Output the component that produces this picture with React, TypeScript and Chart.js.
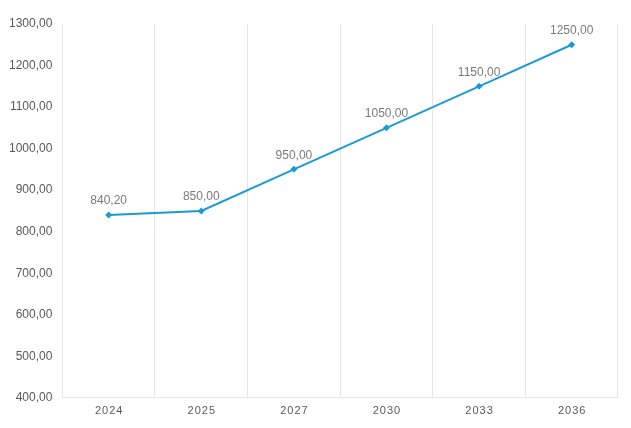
import React, { useEffect, useRef } from "react";
import { Chart, registerables } from "chart.js";

Chart.register(...registerables);

const categories: string[] = ["2024", "2025", "2027", "2030", "2033", "2036"];
const values: number[] = [840.2, 850, 950, 1050, 1150, 1250];
const yMin = 400;
const yMax = 1300;
const yStep = 100;

const LINE_COLOR = "#1a9bd7";
const FONT = "'Liberation Sans', Arial, sans-serif";

const fmt = (v: number) => v.toFixed(2).replace(".", ",");

const customLabels = {
  id: "customLabels",
  afterDatasetsDraw(chart: any) {
    const ctx = chart.ctx as CanvasRenderingContext2D;
    const meta = chart.getDatasetMeta(0);
    ctx.save();
    ctx.font = `12px ${FONT}`;
    ctx.fillStyle = "#7a7a7a";
    ctx.textAlign = "center";
    ctx.textBaseline = "middle";
    meta.data.forEach((pt: any, i: number) => {
      ctx.fillText(fmt(values[i]), pt.x, pt.y - 14);
    });
    ctx.restore();

    const xs = chart.scales.x;
    ctx.save();
    ctx.font = `11px ${FONT}`;
    (ctx as any).letterSpacing = "1px";
    ctx.fillStyle = "#595959";
    ctx.textAlign = "center";
    ctx.textBaseline = "middle";
    categories.forEach((c, i) => {
      ctx.fillText(c, xs.getPixelForTick(i) + 0.5, chart.chartArea.bottom + 13);
    });
    ctx.restore();
  },
};

export default function App() {
  const ref = useRef<HTMLCanvasElement | null>(null);
  useEffect(() => {
    if (!ref.current) return;
    const chart = new Chart(ref.current, {
      type: "line",
      data: {
        labels: categories,
        datasets: [
          {
            data: values,
            borderColor: LINE_COLOR,
            backgroundColor: LINE_COLOR,
            borderWidth: 2,
            pointStyle: "rectRot",
            pointRadius: 3.5,
            pointBackgroundColor: LINE_COLOR,
            pointBorderColor: LINE_COLOR,
            pointBorderWidth: 0,
            tension: 0,
          },
        ],
      },
      options: {
        responsive: true,
        maintainAspectRatio: false,
        animation: false,
        layout: { padding: { left: -1, right: 13, top: 24, bottom: 5 } },
        plugins: {
          legend: { display: false },
          tooltip: { enabled: false },
        },
        scales: {
          x: {
            offset: true,
            grid: {
              display: true,
              offset: true,
              color: "#e6e6e6",
              lineWidth: 1,
              drawTicks: false,
            },
            border: { display: true, color: "#e6e6e6", width: 1 },
            ticks: {
              color: "rgba(0,0,0,0)",
              font: { family: FONT, size: 11 },
              padding: 6,
            },
          },
          y: {
            min: yMin,
            max: yMax,
            grid: { display: false, drawTicks: false },
            border: { display: false },
            ticks: {
              stepSize: yStep,
              color: "#595959",
              font: { family: FONT, size: 12 },
              padding: 10,
              callback: (v: any) => fmt(Number(v)),
            },
          },
        },
      },
      plugins: [customLabels],
    });
    return () => chart.destroy();
  }, []);

  return (
    <div style={{ position: "fixed", left: 0, top: 0, width: 631, height: 428, background: "#fff" }}>
      <canvas ref={ref} />
    </div>
  );
}
